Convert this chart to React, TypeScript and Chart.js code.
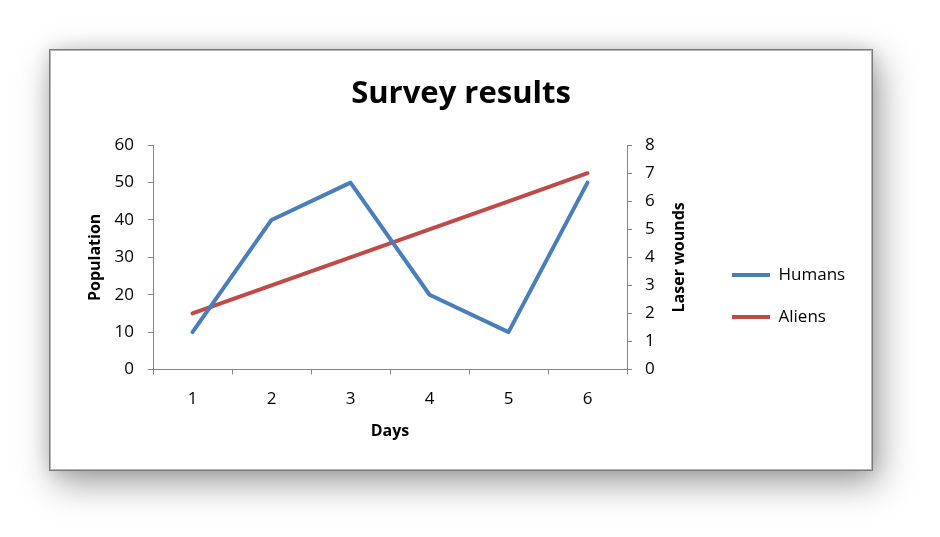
import React, { useEffect, useRef } from "react";
import { Chart, registerables } from "chart.js";

Chart.register(...registerables);

const days = ["1", "2", "3", "4", "5", "6"];
const humans = [10, 40, 50, 20, 10, 50];
const aliens = [2, 3, 4, 5, 6, 7];
const chartTitle = "Survey results";
const xTitle = "Days";
const yTitle = "Population";
const y2Title = "Laser wounds";

const FONT = '"Open Sans", "DejaVu Sans", sans-serif';
const AXIS_GRAY = "#868686";

const rightTitlePlugin = {
  id: "rightTitle",
  afterLayout(chart: any) {
    // centre the chart title across the whole canvas width
    const t = chart.titleBlock;
    if (t) {
      t.left = 0;
      t.right = chart.width;
      t.width = chart.width;
    }
  },
  afterDraw(chart: any) {
    const s = chart.scales.y2;
    if (!s) return;
    const ctx = chart.ctx;
    const ca = chart.chartArea;
    ctx.save();
    ctx.translate(s.left + 52, (ca.top + ca.bottom) / 2);
    ctx.rotate(-Math.PI / 2);
    ctx.font = `bold 16px ${FONT}`;
    ctx.fillStyle = "#000";
    ctx.textAlign = "center";
    ctx.textBaseline = "middle";
    ctx.fillText(y2Title, 0, 0);
    ctx.restore();
  },
};

export default function App() {
  const ref = useRef<HTMLCanvasElement | null>(null);

  useEffect(() => {
    let chart: Chart | null = null;
    let cancelled = false;
    const make = () => {
      if (cancelled || !ref.current) return;
      chart = new Chart(ref.current, {
        type: "line",
        data: {
          labels: days,
          datasets: [
            {
              label: "Humans",
              data: humans,
              borderColor: "#4A7EBB",
              backgroundColor: "#4A7EBB",
              borderWidth: 4,
              borderCapStyle: "round",
              borderJoinStyle: "round",
              pointRadius: 0,
              pointHoverRadius: 0,
              tension: 0,
              yAxisID: "y",
            },
            {
              label: "Aliens",
              data: aliens,
              borderColor: "#BE4B48",
              backgroundColor: "#BE4B48",
              borderWidth: 4,
              borderCapStyle: "round",
              borderJoinStyle: "round",
              pointRadius: 0,
              pointHoverRadius: 0,
              tension: 0,
              yAxisID: "y2",
            },
          ],
        },
        options: {
          responsive: false,
          animation: false,
          devicePixelRatio: 1,
          layout: { padding: { left: 0, right: 23, top: 0, bottom: 0 } },
          plugins: {
            tooltip: { enabled: false },
            title: {
              display: true,
              text: chartTitle,
              color: "#000",
              font: { family: FONT, size: 31, weight: "bold" },
              padding: { top: 25, bottom: 32 },
            },
            legend: {
              display: true,
              position: "right",
              align: "center",
              maxWidth: 141,
              title: {
                display: true,
                text: " ",
                color: "rgba(0,0,0,0)",
                font: { family: FONT, size: 10 },
                padding: { top: 60, bottom: 0 },
              },
              labels: {
                usePointStyle: true,
                pointStyle: "line",
                pointStyleWidth: 38,
                padding: 25,
                color: "#000",
                font: { family: FONT, size: 17 },
              },
            },
          },
          scales: {
            x: {
              type: "category",
              offset: true,
              grid: {
                display: true,
                offset: true,
                drawOnChartArea: false,
                drawTicks: true,
                tickLength: 5,
                color: AXIS_GRAY,
              },
              border: { display: true, color: AXIS_GRAY, width: 1 },
              ticks: {
                color: "#000",
                font: { family: FONT, size: 17 },
                padding: 14,
                maxRotation: 0,
              },
              title: {
                display: true,
                text: xTitle,
                color: "#000",
                font: { family: FONT, size: 16, weight: "bold" },
                padding: { top: 0, bottom: 28 },
              },
              afterFit(scale: any) {
                scale.height = 99.5;
              },
            },
            y: {
              position: "left",
              min: 0,
              max: 60,
              grid: {
                display: true,
                drawOnChartArea: false,
                drawTicks: true,
                tickLength: 5,
                color: AXIS_GRAY,
              },
              border: { display: true, color: AXIS_GRAY, width: 1 },
              ticks: {
                stepSize: 10,
                color: "#000",
                font: { family: FONT, size: 17 },
                padding: 14,
              },
              title: {
                display: true,
                text: yTitle,
                color: "#000",
                font: { family: FONT, size: 16, weight: "bold" },
                padding: { top: 35, bottom: 0 },
              },
              afterFit(scale: any) {
                scale.width = 102;
              },
            },
            y2: {
              position: "right",
              min: 0,
              max: 8,
              grid: {
                display: true,
                drawOnChartArea: false,
                drawTicks: true,
                tickLength: 5,
                color: AXIS_GRAY,
              },
              border: { display: true, color: AXIS_GRAY, width: 1 },
              ticks: {
                stepSize: 1,
                color: "#000",
                font: { family: FONT, size: 17 },
                padding: 13,
              },
              title: { display: false },
              afterFit(scale: any) {
                scale.width = 80;
              },
            },
          },
        },
        plugins: [rightTitlePlugin],
      });
    };
    const fonts = (document as any).fonts;
    if (fonts && fonts.load) {
      Promise.all([
        fonts.load(`16px ${FONT}`),
        fonts.load(`bold 16px ${FONT}`),
      ])
        .catch(() => {})
        .then(make);
    } else {
      make();
    }
    return () => {
      cancelled = true;
      if (chart) chart.destroy();
    };
  }, []);

  return (
    <div
      style={{
        position: "fixed",
        left: 0,
        top: 0,
        width: 940,
        height: 537,
        background: "#fff",
        overflow: "hidden",
      }}
    >
      <div
        style={{
          position: "absolute",
          left: 49,
          top: 49,
          width: 824,
          height: 422,
          boxSizing: "border-box",
          border: "1px solid #7a7a7a",
          background: "#fff",
          boxShadow:
            "inset 0 0 0 1px #b4b4b4, 6px 12px 34px rgba(0,0,0,0.38), 0 0 16px rgba(0,0,0,0.12)",
        }}
      >
        <canvas
          ref={ref}
          width={820}
          height={418}
          style={{ position: "absolute", left: 1, top: 1, width: 820, height: 418 }}
        />
      </div>
    </div>
  );
}
